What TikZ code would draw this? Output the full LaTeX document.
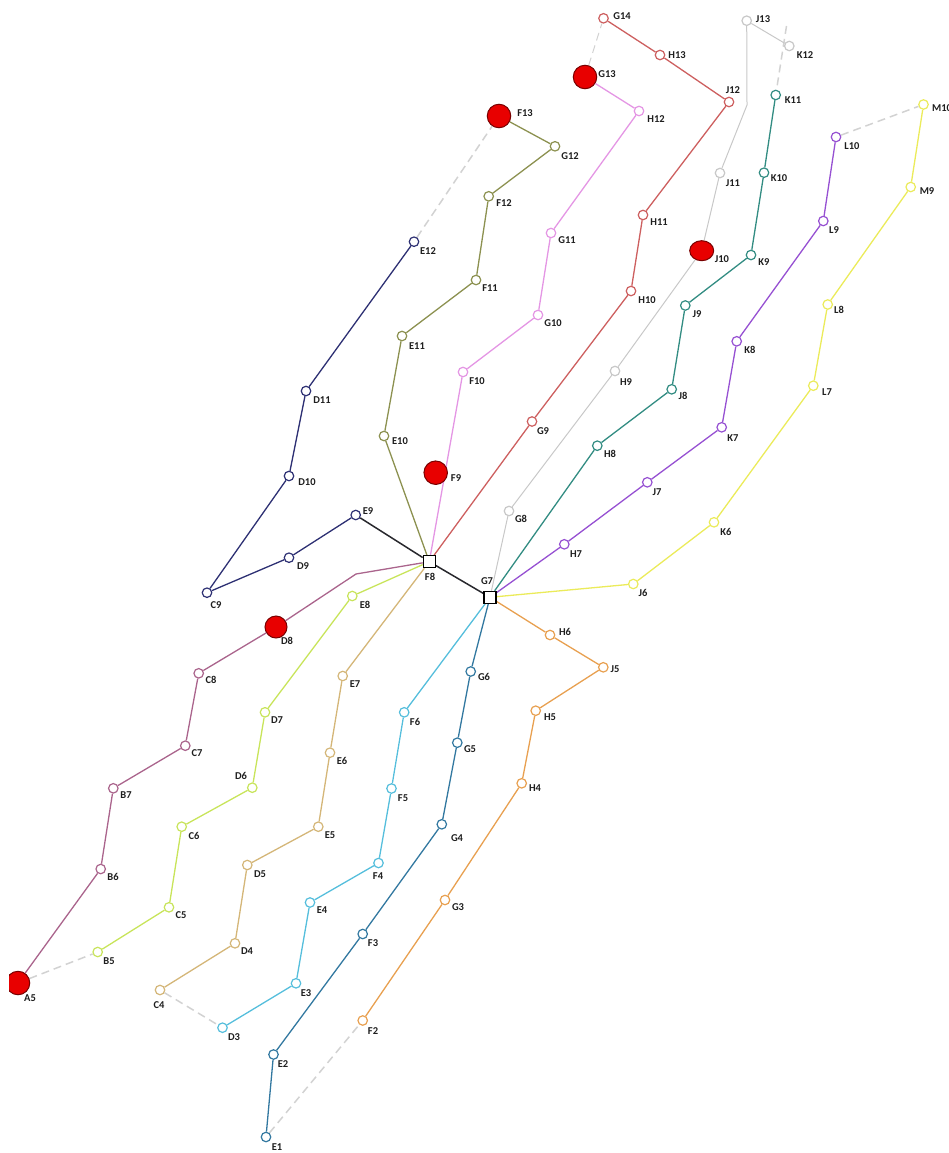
\documentclass[tikz,border=0pt]{standalone}
\usepackage{fontspec}
\newfontfamily\lblfam{Carlito}
\usetikzlibrary{backgrounds,shapes.geometric}
\definecolor{cnavy}{RGB}{45,48,115}
\definecolor{colive}{RGB}{140,145,80}
\definecolor{corchid}{RGB}{228,150,228}
\definecolor{csalmon}{RGB}{205,95,95}
\definecolor{cgray}{RGB}{200,200,200}
\definecolor{cteal}{RGB}{50,140,130}
\definecolor{cpurple}{RGB}{150,80,210}
\definecolor{cyellow}{RGB}{235,235,90}
\definecolor{cmauve}{RGB}{170,100,140}
\definecolor{clime}{RGB}{200,228,90}
\definecolor{ctan}{RGB}{212,182,120}
\definecolor{ccyan}{RGB}{85,190,220}
\definecolor{csteel}{RGB}{50,120,160}
\definecolor{corange}{RGB}{232,160,80}
\definecolor{credfill}{RGB}{232,0,0}
\definecolor{creddark}{RGB}{120,0,0}
\definecolor{cdash}{RGB}{210,210,210}
\definecolor{cblackln}{RGB}{40,40,45}
\definecolor{ctext}{RGB}{30,30,30}
\tikzset{
  dot/.style={circle, draw=#1, fill=white, line width=1.2pt, inner sep=0pt, minimum size=9.5pt},
  sq/.style={rectangle, draw=black, fill=white, line width=1.2pt, inner sep=0pt, minimum size=12pt},
  big/.style={circle, draw=creddark, fill=credfill, line width=1pt, inner sep=0pt, minimum size=23.5pt},
  bigell/.style={ellipse, draw=creddark, fill=credfill, line width=1pt, inner sep=0pt, minimum width=24pt, minimum height=20pt},
  lbl/.style={font=\lblfam\bfseries\fontsize{10.5}{11}\selectfont, inner sep=0pt, text=ctext},
  chainln/.style={draw=#1, line width=1.3pt, line join=round},
  gdash/.style={draw=cdash, line width=1.5pt, dash pattern=on 8pt off 5pt},
}
\begin{document}
\begin{tikzpicture}[x=1pt,y=-1pt]
\useasboundingbox (0,0) rectangle (949,1153);
% squares
\node[sq] (F8) at (429.3,561.7) {};
\node[sq] (G7) at (490,597.3) {};
% navy
\node[dot=cnavy] (E9) at (355.7,515) {};
\node[dot=cnavy] (D9) at (289,557.7) {};
\node[dot=cnavy] (C9) at (207,592.7) {};
\node[dot=cnavy] (D10) at (289,476) {};
\node[dot=cnavy] (D11) at (306,391) {};
\node[dot=cnavy] (E12) at (414,241.7) {};
% olive
\node[dot=colive] (E10) at (384,436) {};
\node[dot=colive] (E11) at (402,336) {};
\node[dot=colive] (F11) at (476,280) {};
\node[dot=colive] (F12) at (488.7,196.3) {};
\node[dot=colive] (G12) at (555,146.3) {};
% orchid
\node[dot=corchid] (F10) at (463,372) {};
\node[dot=corchid] (G10) at (538,315) {};
\node[dot=corchid] (G11) at (551,233) {};
\node[dot=corchid] (H12) at (639,111) {};
% salmon
\node[dot=csalmon] (G9) at (532,421.5) {};
\node[dot=csalmon] (H10) at (631,291) {};
\node[dot=csalmon] (H11) at (643,215) {};
\node[dot=csalmon] (J12) at (729,102) {};
\node[dot=csalmon] (H13) at (660,55) {};
\node[dot=csalmon] (G14) at (603.5,18.3) {};
% gray
\node[dot=cgray] (G8) at (509,511) {};
\node[dot=cgray] (H9) at (615,371) {};
\node[dot=cgray] (J11) at (720,173) {};
\node[dot=cgray] (J13) at (746.7,20.7) {};
\node[dot=cgray] (K12) at (789.3,46) {};
\coordinate (Jb) at (747,105);
\coordinate (Kt) at (786.5,26);
% teal
\node[dot=cteal] (H8) at (597.3,445.7) {};
\node[dot=cteal] (J8) at (671.7,389.3) {};
\node[dot=cteal] (J9) at (685.3,305.5) {};
\node[dot=cteal] (K9) at (751,255) {};
\node[dot=cteal] (K10) at (764,172.7) {};
\node[dot=cteal] (K11) at (775.7,95) {};
% purple
\node[dot=cpurple] (H7) at (564.3,544.3) {};
\node[dot=cpurple] (J7) at (647.3,482.3) {};
\node[dot=cpurple] (K7) at (721.7,427.3) {};
\node[dot=cpurple] (K8) at (736.7,341.3) {};
\node[dot=cpurple] (L9) at (823.3,221) {};
\node[dot=cpurple] (L10) at (836,137) {};
% yellow
\node[dot=cyellow] (J6) at (633.3,584) {};
\node[dot=cyellow] (K6) at (714,522.3) {};
\node[dot=cyellow] (L7) at (813.3,385.7) {};
\node[dot=cyellow] (L8) at (827.7,304.5) {};
\node[dot=cyellow] (M9) at (910.7,187) {};
\node[dot=cyellow] (M10) at (923.5,104.5) {};
% mauve
\coordinate (Mb) at (356,574);
\node[dot=cmauve] (C8) at (198.7,673.3) {};
\node[dot=cmauve] (C7) at (185.3,745.7) {};
\node[dot=cmauve] (B7) at (113.3,788.3) {};
\node[dot=cmauve] (B6) at (100.7,869) {};
% lime
\node[dot=clime] (E8) at (352.3,596) {};
\node[dot=clime] (D7) at (265,712.3) {};
\node[dot=clime] (D6) at (252.3,787.7) {};
\node[dot=clime] (C6) at (181.7,826.7) {};
\node[dot=clime] (C5) at (169,907.3) {};
\node[dot=clime] (B5) at (97.7,952) {};
% tan
\node[dot=ctan] (E7) at (342.7,676) {};
\node[dot=ctan] (E6) at (330,752.7) {};
\node[dot=ctan] (E5) at (318.3,826.7) {};
\node[dot=ctan] (D5) at (247.3,865) {};
\node[dot=ctan] (D4) at (235,943.3) {};
\node[dot=ctan] (C4) at (160,990) {};
% cyan
\node[dot=ccyan] (F6) at (404.2,712.3) {};
\node[dot=ccyan] (F5) at (391.5,788.5) {};
\node[dot=ccyan] (F4) at (378.5,863) {};
\node[dot=ccyan] (E4) at (310,902.5) {};
\node[dot=ccyan] (E3) at (296,983.3) {};
\node[dot=ccyan] (D3) at (222.5,1027.7) {};
% steel
\node[dot=csteel] (G6) at (470.7,671.5) {};
\node[dot=csteel] (G5) at (457.3,742.7) {};
\node[dot=csteel] (G4) at (441.8,824.3) {};
\node[dot=csteel] (F3) at (362.7,934) {};
\node[dot=csteel] (E2) at (273.5,1054.5) {};
\node[dot=csteel] (E1) at (266,1137) {};
% orange
\node[dot=corange] (H6) at (550,635) {};
\node[dot=corange] (J5) at (603.3,667.3) {};
\node[dot=corange] (H5) at (535.7,710.7) {};
\node[dot=corange] (H4) at (521.7,783.3) {};
\node[dot=corange] (G3) at (445,900) {};
\node[dot=corange] (F2) at (362.7,1020.5) {};
% red circles
\node[big] (F13) at (499,116) {};
\node[big] (G13) at (585,77) {};
\node[big] (F9) at (435.7,472.7) {};
\node[bigell] (J10) at (701.7,250.7) {};
\node[big, minimum size=22pt] (D8) at (276,627) {};
\begin{scope}
\clip (9,0) rectangle (949,1153);
\node[big] (A5) at (18,983) {};
\end{scope}
% connectors
\begin{pgfonlayer}{background}
\draw[gdash] (E12) -- (F13);
\draw[gdash, line width=1pt] (G13) -- (G14);
\draw[gdash] (Kt) -- (K11);
\draw[gdash] (L10) -- (M10);
\draw[gdash] (A5) -- (B5);
\draw[gdash] (C4) -- (D3);
\draw[gdash] (E1) -- (F2);
\draw[chainln=cblackln, line width=1.5pt] (F8) -- (G7);
\draw[chainln=cblackln, line width=1.5pt] (F8) -- (E9);
\draw[chainln=cnavy] (E9) -- (D9) -- (C9) -- (D10) -- (D11) -- (E12);
\draw[chainln=colive] (F8) -- (E10) -- (E11) -- (F11) -- (F12) -- (G12) -- (F13);
\draw[chainln=corchid] (F8) -- (F10) -- (G10) -- (G11) -- (H12) -- (G13);
\draw[chainln=csalmon] (F8) -- (G9) -- (H10) -- (H11) -- (J12) -- (H13) -- (G14);
\draw[chainln=cgray, line width=1pt] (G7) -- (G8) -- (H9) -- (J10) -- (J11) -- (Jb) -- (J13) -- (K12);
\draw[chainln=cteal] (G7) -- (H8) -- (J8) -- (J9) -- (K9) -- (K10) -- (K11);
\draw[chainln=cpurple] (G7) -- (H7) -- (J7) -- (K7) -- (K8) -- (L9) -- (L10);
\draw[chainln=cyellow] (G7) -- (J6) -- (K6) -- (L7) -- (L8) -- (M9) -- (M10);
\draw[chainln=cmauve] (F8) -- (Mb) -- (D8) -- (C8) -- (C7) -- (B7) -- (B6) -- (A5);
\draw[chainln=clime] (F8) -- (E8) -- (D7) -- (D6) -- (C6) -- (C5) -- (B5);
\draw[chainln=ctan] (F8) -- (E7) -- (E6) -- (E5) -- (D5) -- (D4) -- (C4);
\draw[chainln=ccyan] (G7) -- (F6) -- (F5) -- (F4) -- (E4) -- (E3) -- (D3);
\draw[chainln=csteel] (G7) -- (G6) -- (G5) -- (G4) -- (F3) -- (E2) -- (E1);
\draw[chainln=corange] (G7) -- (H6) -- (J5) -- (H5) -- (H4) -- (G3) -- (F2);
\end{pgfonlayer}
% labels
\node[lbl] (lF8) at (430,577) {F8};
\node[lbl] (lG7) at (487,581) {G7};
\node[lbl] (lE9) at (368,511) {E9};
\node[lbl] (lD9) at (303,566) {D9};
\node[lbl] (lC9) at (216,605) {C9};
\node[lbl] (lD10) at (307,482) {D10};
\node[lbl] (lD11) at (322,400) {D11};
\node[lbl] (lE12) at (428,251) {E12};
\node[lbl] (lE10) at (400,441) {E10};
\node[lbl] (lE11) at (417,346) {E11};
\node[lbl] (lF11) at (490,288) {F11};
\node[lbl] (lF12) at (504,203) {F12};
\node[lbl] (lG12) at (570,156) {G12};
\node[lbl] (lF13) at (525,113) {F13};
\node[lbl] (lF10) at (477,381) {F10};
\node[lbl] (lG10) at (553,323) {G10};
\node[lbl] (lG11) at (567,240) {G11};
\node[lbl] (lH12) at (656,119) {H12};
\node[lbl] (lG13) at (607,74) {G13};
\node[lbl] (lF9) at (456,478) {F9};
\node[lbl] (lG9) at (543,431) {G9};
\node[lbl] (lH10) at (647,300) {H10};
\node[lbl] (lH11) at (659,222) {H11};
\node[lbl] (lJ12) at (733,90) {J12};
\node[lbl] (lH13) at (677,55) {H13};
\node[lbl] (lG14) at (622,16) {G14};
\node[lbl] (lG8) at (521,519) {G8};
\node[lbl] (lH9) at (626,382) {H9};
\node[lbl] (lJ10) at (722,259) {J10};
\node[lbl] (lJ11) at (733,183) {J11};
\node[lbl] (lJ13) at (763,19) {J13};
\node[lbl] (lK12) at (805,55) {K12};
\node[lbl] (lH8) at (610,454) {H8};
\node[lbl] (lJ8) at (683,396) {J8};
\node[lbl] (lJ9) at (697,314) {J9};
\node[lbl] (lK9) at (764,262) {K9};
\node[lbl] (lK10) at (779,178) {K10};
\node[lbl] (lK11) at (793,100) {K11};
\node[lbl] (lH7) at (576,554) {H7};
\node[lbl] (lJ7) at (657,492) {J7};
\node[lbl] (lK7) at (733,438) {K7};
\node[lbl] (lK8) at (750,350) {K8};
\node[lbl] (lL9) at (834,230) {L9};
\node[lbl] (lL10) at (852,146) {L10};
\node[lbl] (lJ6) at (643,593) {J6};
\node[lbl] (lK6) at (726,532) {K6};
\node[lbl] (lL7) at (827,392) {L7};
\node[lbl] (lL8) at (839,310) {L8};
\node[lbl] (lM9) at (927,191) {M9};
\node[lbl, anchor=west] (lM10) at (932,108) {M10};
\node[lbl] (lD8) at (287,641) {D8};
\node[lbl] (lC8) at (211,680) {C8};
\node[lbl] (lC7) at (197,753) {C7};
\node[lbl] (lB7) at (126,795) {B7};
\node[lbl] (lB6) at (113,877) {B6};
\node[lbl] (lA5) at (30,998) {A5};
\node[lbl] (lE8) at (365,605) {E8};
\node[lbl] (lD7) at (277,720) {D7};
\node[lbl] (lD6) at (241,776) {D6};
\node[lbl] (lC6) at (194,836) {C6};
\node[lbl] (lC5) at (181,915) {C5};
\node[lbl] (lB5) at (109,961) {B5};
\node[lbl] (lE7) at (355,684) {E7};
\node[lbl] (lE6) at (342,761) {E6};
\node[lbl] (lE5) at (330,835) {E5};
\node[lbl] (lD5) at (260,874) {D5};
\node[lbl] (lD4) at (247,951) {D4};
\node[lbl] (lC4) at (159,1005) {C4};
\node[lbl] (lF6) at (415,722) {F6};
\node[lbl] (lF5) at (403,798) {F5};
\node[lbl] (lF4) at (378,876) {F4};
\node[lbl] (lE4) at (322,910) {E4};
\node[lbl] (lE3) at (306,993) {E3};
\node[lbl] (lD3) at (234,1037) {D3};
\node[lbl] (lG6) at (484,677) {G6};
\node[lbl] (lG5) at (470,749) {G5};
\node[lbl] (lG4) at (457,838) {G4};
\node[lbl] (lF3) at (373,943) {F3};
\node[lbl] (lE2) at (283,1064) {E2};
\node[lbl] (lE1) at (277,1147) {E1};
\node[lbl] (lH6) at (565,632) {H6};
\node[lbl] (lJ5) at (615,669) {J5};
\node[lbl] (lH5) at (550,717) {H5};
\node[lbl] (lH4) at (535,788) {H4};
\node[lbl] (lG3) at (458,907) {G3};
\node[lbl] (lF2) at (373,1031) {F2};
\end{tikzpicture}
\end{document}
